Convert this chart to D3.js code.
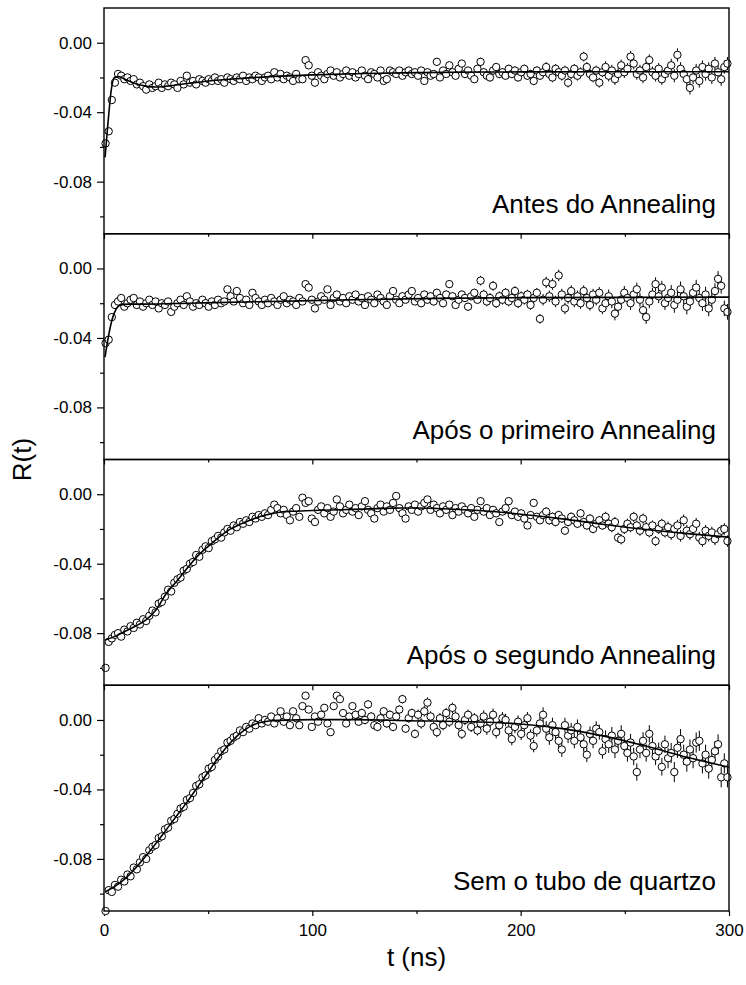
<!DOCTYPE html>
<html><head><meta charset="utf-8">
<script src="https://cdn.jsdelivr.net/npm/d3@7"></script>
<style>body{margin:0;background:#fff} text{font-family:"Liberation Sans",Arial,sans-serif;fill:#000}</style>
</head><body><svg id="chart" width="746" height="985"></svg>
<script>
const panelLabels = ["Antes do Annealing","Após o primeiro Annealing","Após o segundo Annealing","Sem o tubo de quartzo"];
const xTicks = [0,100,200,300];
const xMinor = [50,150,250];
const yTicks = [0,-0.04,-0.08];
const yMinor = [-0.02,-0.06,-0.10];
const yDomain = [-0.11,0.02];
const xDomain = [0,300];
const tStart = 0.75, tStep = 1.5;

const r1 = [-.058,-.051,-.033,-.023,-.018,-.019,-.021,-.020,-.022,-.021,
-.024,-.023,-.025,-.027,-.024,-.026,-.025,-.023,-.026,-.024,
-.025,-.023,-.024,-.026,-.022,-.024,-.019,-.023,-.022,-.024,
-.021,-.022,-.023,-.021,-.022,-.020,-.022,-.021,-.023,-.020,
-.021,-.022,-.020,-.021,-.019,-.022,-.020,-.021,-.019,-.020,
-.022,-.020,-.019,-.021,-.017,-.020,-.018,-.021,-.019,-.020,
-.022,-.018,-.021,-.021,-.010,-.013,-.019,-.023,-.017,-.019,
-.021,-.018,-.016,-.019,-.017,-.020,-.018,-.016,-.019,-.017,
-.020,-.018,-.016,-.019,-.021,-.017,-.018,-.020,-.016,-.022,
-.021,-.016,-.017,-.018,-.016,-.019,-.017,-.016,-.018,-.017,
-.019,-.016,-.022,-.017,-.019,-.018,-.011,-.020,-.016,-.018,
-.013,-.017,-.019,-.015,-.012,-.018,-.016,-.019,-.021,-.015,
-.011,-.017,-.019,-.020,-.016,-.014,-.018,-.017,-.019,-.015,
-.018,-.016,-.020,-.017,-.015,-.019,-.018,-.022,-.016,-.019,
-.017,-.014,-.018,-.020,-.015,-.017,-.019,-.016,-.023,-.018,
-.015,-.019,-.017,-.008,-.014,-.018,-.020,-.016,-.023,-.017,
-.014,-.019,-.016,-.021,-.018,-.013,-.017,-.015,-.008,-.012,
-.018,-.016,-.020,-.014,-.010,-.017,-.019,-.015,-.021,-.018,
-.016,-.013,-.019,-.007,-.015,-.018,-.021,-.026,-.020,-.016,
-.022,-.014,-.018,-.015,-.020,-.012,-.017,-.021,-.014,-.012];

const r2 = [-.043,-.041,-.028,-.021,-.019,-.017,-.022,-.020,-.018,-.017,
-.021,-.019,-.022,-.020,-.018,-.021,-.019,-.023,-.020,-.021,
-.019,-.025,-.022,-.020,-.018,-.021,-.016,-.019,-.022,-.020,
-.021,-.018,-.020,-.022,-.019,-.021,-.018,-.020,-.019,-.012,
-.016,-.019,-.013,-.017,-.020,-.018,-.021,-.014,-.017,-.019,
-.021,-.018,-.020,-.017,-.019,-.021,-.018,-.016,-.020,-.018,
-.019,-.021,-.017,-.019,-.009,-.011,-.018,-.023,-.019,-.016,
-.018,-.012,-.021,-.017,-.015,-.019,-.017,-.020,-.016,-.018,
-.015,-.019,-.017,-.021,-.016,-.018,-.020,-.015,-.017,-.019,
-.021,-.016,-.013,-.018,-.020,-.016,-.018,-.015,-.013,-.019,
-.017,-.020,-.015,-.018,-.016,-.019,-.014,-.017,-.020,-.015,
-.009,-.016,-.021,-.018,-.015,-.017,-.022,-.016,-.014,-.018,
-.007,-.015,-.019,-.017,-.010,-.020,-.016,-.018,-.014,-.019,
-.017,-.013,-.020,-.016,-.018,-.015,-.021,-.017,-.014,-.029,
-.018,-.008,-.016,-.009,-.019,-.004,-.015,-.023,-.017,-.013,
-.019,-.016,-.020,-.013,-.017,-.021,-.015,-.018,-.014,-.023,
-.020,-.016,-.019,-.026,-.022,-.018,-.014,-.017,-.020,-.015,
-.012,-.018,-.024,-.028,-.019,-.015,-.009,-.016,-.011,-.020,
-.017,-.014,-.021,-.018,-.012,-.016,-.022,-.019,-.014,-.011,
-.017,-.020,-.015,-.023,-.018,-.013,-.006,-.010,-.023,-.025];

const r3 = [-.100,-.085,-.083,-.081,-.080,-.082,-.078,-.079,-.076,-.077,
-.074,-.075,-.072,-.073,-.070,-.067,-.068,-.063,-.062,-.059,
-.055,-.056,-.051,-.049,-.048,-.044,-.043,-.040,-.039,-.035,
-.036,-.032,-.030,-.031,-.027,-.026,-.024,-.025,-.022,-.020,
-.021,-.018,-.019,-.016,-.017,-.015,-.016,-.013,-.014,-.012,
-.013,-.011,-.012,-.009,-.006,-.008,-.011,-.009,-.012,-.015,
-.010,-.008,-.013,-.002,-.005,-.004,-.014,-.016,-.009,-.007,
-.011,-.008,-.013,-.010,-.003,-.007,-.011,-.009,-.006,-.010,
-.008,-.012,-.007,-.004,-.009,-.011,-.014,-.008,-.006,-.010,
-.007,-.009,-.005,-.001,-.008,-.011,-.014,-.007,-.009,-.006,
-.010,-.007,-.005,-.003,-.009,-.006,-.008,-.011,-.007,-.009,
-.006,-.012,-.008,-.010,-.007,-.009,-.011,-.008,-.013,-.009,
-.004,-.010,-.008,-.012,-.009,-.011,-.016,-.010,-.008,-.004,
-.012,-.010,-.013,-.011,-.014,-.018,-.012,-.005,-.013,-.015,
-.012,-.010,-.015,-.013,-.016,-.012,-.014,-.021,-.016,-.013,
-.015,-.017,-.011,-.016,-.018,-.014,-.020,-.017,-.015,-.018,
-.013,-.017,-.019,-.016,-.025,-.026,-.020,-.017,-.019,-.013,
-.018,-.021,-.014,-.019,-.022,-.018,-.027,-.020,-.017,-.022,
-.019,-.023,-.020,-.018,-.024,-.015,-.021,-.023,-.020,-.017,
-.025,-.027,-.021,-.024,-.022,-.026,-.023,-.021,-.020,-.027];

const r4 = [-.110,-.098,-.099,-.095,-.096,-.092,-.093,-.089,-.090,-.085,
-.086,-.082,-.079,-.080,-.075,-.073,-.072,-.068,-.067,-.063,
-.062,-.058,-.057,-.054,-.051,-.050,-.046,-.045,-.042,-.038,
-.037,-.033,-.032,-.028,-.027,-.023,-.021,-.018,-.017,-.013,
-.012,-.010,-.009,-.006,-.007,-.004,-.005,-.002,-.003,.001,
-.002,.000,-.001,.002,-.002,.001,.005,-.001,.002,-.003,
.005,.001,-.003,.008,.014,.006,-.004,.002,-.001,.003,
.007,-.002,-.007,.008,.014,.012,.004,-.002,.002,.008,
.003,-.001,.004,.000,.009,.002,-.003,-.004,.001,.005,
-.002,.003,-.004,.002,.006,.012,-.005,.001,.004,-.008,
.003,-.002,.005,.010,.002,-.004,-.007,.001,-.003,.004,
-.001,.007,.002,-.003,-.008,.000,.003,-.004,.001,-.006,
-.002,.002,-.005,-.001,.003,-.007,-.003,.001,.000,-.006,
-.011,-.004,-.001,-.008,-.003,.001,-.009,-.015,-.006,-.002,
.003,-.005,-.010,-.003,-.007,-.012,-.017,-.003,-.009,-.006,
-.012,-.004,-.010,-.014,-.020,-.008,-.012,-.005,-.007,-.018,
-.011,-.014,-.009,-.017,-.012,-.008,-.015,-.019,-.013,-.021,
-.030,-.017,-.012,-.019,-.008,-.015,-.021,-.018,-.027,-.014,
-.022,-.019,-.030,-.016,-.011,-.020,-.024,-.017,-.022,-.013,
-.012,-.025,-.020,-.028,-.023,-.018,-.014,-.033,-.025,-.033];

// error half-widths per 30 ns block
const err1 = [.0005,.0008,.0010,.0013,.0016,.0020,.0024,.0028,.0033,.0038];
const err2 = [.0006,.0009,.0012,.0015,.0019,.0023,.0028,.0033,.0039,.0045];
const err3 = [.0005,.0007,.0009,.0012,.0015,.0018,.0021,.0025,.0029,.0033];
const err4 = [.0008,.0011,.0015,.0020,.0025,.0030,.0036,.0043,.0050,.0058];

// fitted curves
const fit1T = [0.5,2,3.5,5,7,10,15,20,25,30,40,50,60,80,100,125,150,200,250,300];
const fit1R = [-.066,-.045,-.027,-.020,-.0195,-.021,-.0235,-.025,-.0255,-.025,-.0235,-.022,-.021,-.0195,-.0185,-.0177,-.0172,-.0168,-.0167,-.0167];
const fit2T = [0.5,2,4,6,8,12,20,40,80,120,160,200,300];
const fit2R = [-.051,-.040,-.029,-.023,-.021,-.0205,-.0205,-.020,-.019,-.018,-.0172,-.0168,-.0165];
const fit3T = [0.5,5,10,15,20,25,30,35,40,45,50,55,60,65,70,75,80,85,90,100,120,140,150,160,180,200,220,240,260,280,300];
const fit3R = [-.084,-.082,-.079,-.076,-.0725,-.0665,-.057,-.050,-.0425,-.0355,-.030,-.025,-.0205,-.0175,-.015,-.0128,-.0113,-.0102,-.0098,-.0094,-.0087,-.0080,-.0079,-.0082,-.0094,-.0115,-.0142,-.0174,-.0203,-.0227,-.0247];
const fit4T = [0.5,5,10,15,20,25,30,35,40,45,50,55,60,65,70,75,80,90,100,120,147,175,200,220,240,260,280,300];
const fit4R = [-.099,-.096,-.0915,-.0855,-.0785,-.071,-.063,-.055,-.047,-.0385,-.030,-.0215,-.014,-.008,-.0038,-.0015,-.0004,0,.0002,.0002,-.0004,-.001,-.0023,-.005,-.0093,-.015,-.0215,-.0272];

const series = [
  {label: panelLabels[0], r: r1, err: err1, fitT: fit1T, fitR: fit1R},
  {label: panelLabels[1], r: r2, err: err2, fitT: fit2T, fitR: fit2R},
  {label: panelLabels[2], r: r3, err: err3, fitT: fit3T, fitR: fit3R},
  {label: panelLabels[3], r: r4, err: err4, fitT: fit4T, fitR: fit4R}
];

const mLeft = 104, mRight = 729, mTop = 8, mBottom = 911;
const ph = (mBottom - mTop) / series.length;
const svg = d3.select("#chart");
const x = d3.scaleLinear().domain(xDomain).range([mLeft, mRight]);
const fmt = d => d === 0 ? "0.00" : d.toFixed(2);
const FONT = '"Liberation Sans",Arial,sans-serif';

series.forEach((s, k) => {
  const y0 = mTop + k * ph, y1 = y0 + ph;
  const y = d3.scaleLinear().domain(yDomain).range([y1, y0]);
  const g = svg.append("g");
  const times = s.r.map((v, i) => tStart + tStep * i);

  const gy = g.append("g").attr("transform", `translate(${mLeft},0)`)
    .call(d3.axisLeft(y).tickValues(yTicks).tickFormat(fmt).tickSize(7).tickPadding(5));
  gy.select(".domain").remove();
  gy.selectAll("text").attr("font-size", 17).attr("font-family", FONT).attr("fill", "#000");
  gy.selectAll("line").attr("stroke", "#000").attr("stroke-width", 1.2);
  const gym = g.append("g").attr("transform", `translate(${mLeft},0)`)
    .call(d3.axisLeft(y).tickValues(yMinor).tickFormat("").tickSize(4));
  gym.select(".domain").remove();
  gym.selectAll("line").attr("stroke", "#000").attr("stroke-width", 1.2);

  const gx = g.append("g").attr("transform", `translate(0,${y1})`)
    .call(d3.axisBottom(x).tickValues(xTicks).tickSize(5).tickPadding(8)
      .tickFormat(k === series.length - 1 ? d3.format("d") : ""));
  gx.select(".domain").remove();
  gx.selectAll("text").attr("font-size", 17).attr("font-family", FONT).attr("fill", "#000");
  gx.selectAll("line").attr("stroke", "#000").attr("stroke-width", 1.2);
  const gxm = g.append("g").attr("transform", `translate(0,${y1})`)
    .call(d3.axisBottom(x).tickValues(xMinor).tickSize(3).tickFormat(""));
  gxm.select(".domain").remove();
  gxm.selectAll("line").attr("stroke", "#000").attr("stroke-width", 1.2);

  g.append("g").selectAll("line").data(s.r).join("line")
    .attr("x1", (v, i) => x(times[i])).attr("x2", (v, i) => x(times[i]))
    .attr("y1", (v, i) => y(v - s.err[Math.min(9, Math.floor(times[i] / 30))]))
    .attr("y2", (v, i) => y(v + s.err[Math.min(9, Math.floor(times[i] / 30))]))
    .attr("stroke", "#000").attr("stroke-width", 1);

  g.append("g").selectAll("circle").data(s.r).join("circle")
    .attr("cx", (v, i) => x(times[i])).attr("cy", v => y(v))
    .attr("r", 3.7).attr("fill", "#fff").attr("stroke", "#000").attr("stroke-width", 1);

  const fitPts = s.fitT.map((t, i) => [t, s.fitR[i]]);
  g.append("path").datum(fitPts)
    .attr("d", d3.line().x(d => x(d[0])).y(d => y(d[1])).curve(d3.curveMonotoneX))
    .attr("fill", "none").attr("stroke", "#000").attr("stroke-width", 1.6);

  g.append("rect").attr("x", mLeft).attr("y", y0).attr("width", mRight - mLeft).attr("height", ph)
    .attr("fill", "none").attr("stroke", "#000").attr("stroke-width", 1.4);

  g.append("text").attr("x", 716).attr("y", y1 - 21).attr("text-anchor", "end")
    .attr("font-size", 26).text(s.label);
});

svg.append("text").attr("transform", `translate(31,${(mTop + mBottom) / 2}) rotate(-90)`)
  .attr("text-anchor", "middle").attr("font-size", 26).text("R(t)");
svg.append("text").attr("x", (mLeft + mRight) / 2).attr("y", 966)
  .attr("text-anchor", "middle").attr("font-size", 26).text("t (ns)");
</script></body></html>
